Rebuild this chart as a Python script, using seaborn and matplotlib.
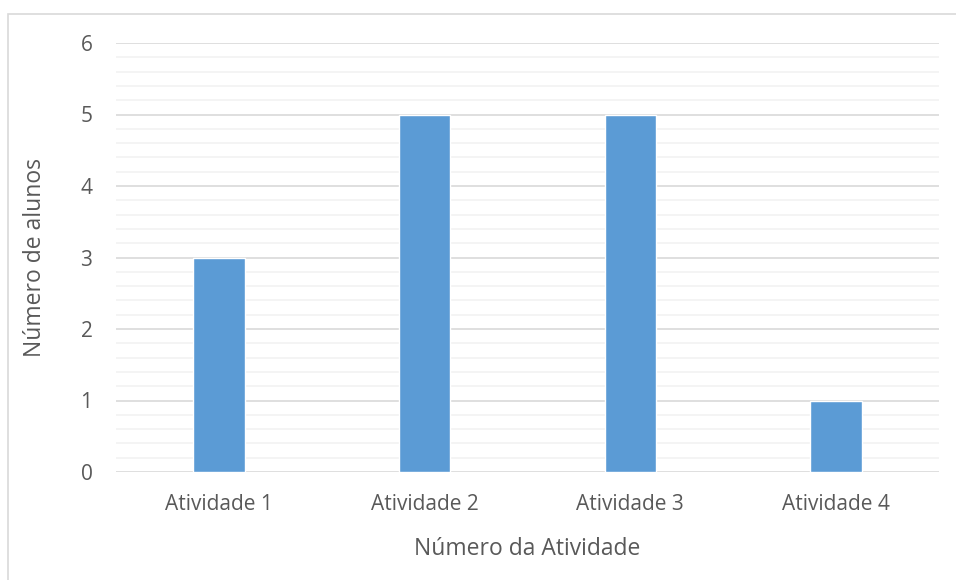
import matplotlib
matplotlib.use("Agg")
import matplotlib.pyplot as plt
from matplotlib.patches import Rectangle
from matplotlib.ticker import MultipleLocator
import seaborn as sns
import pandas as pd

categories = ["Atividade 1", "Atividade 2", "Atividade 3", "Atividade 4"]
alunos = [3, 5, 5, 1]

sns.set_theme(style="white")
plt.rcParams["font.family"] = ["Open Sans", "DejaVu Sans"]

df = pd.DataFrame({"atividade": categories, "alunos": alunos})

fig = plt.figure(figsize=(9.56, 5.80), dpi=100)
ax = fig.add_axes([116 / 956, 1 - 472 / 580, (939 - 116) / 956, (472 - 43) / 580])

sns.barplot(data=df, x="atividade", y="alunos", color="#5B9BD5",
            width=0.25, saturation=1, ax=ax, zorder=3)

ax.set_ylim(0, 6)
ax.set_xlim(-0.5, len(categories) - 0.5)
ax.yaxis.set_major_locator(MultipleLocator(1))
ax.yaxis.set_minor_locator(MultipleLocator(0.2))
ax.grid(axis="y", which="major", color="#D9D9D9", linewidth=1.2, zorder=0)
ax.grid(axis="y", which="minor", color="#F2F2F2", linewidth=1.2, zorder=0)
ax.set_axisbelow(True)
for s in ax.spines.values():
    s.set_visible(False)

ax.tick_params(axis="x", which="both", length=0, labelsize=15,
               labelcolor="#595959", pad=16)
ax.tick_params(axis="y", which="both", length=0, labelsize=15,
               labelcolor="#595959", pad=17)
ax.set_xlabel("Número da Atividade", fontsize=16.5, color="#595959", labelpad=16)
ax.set_ylabel("Número de alunos", fontsize=16.5, color="#595959", labelpad=24)

# chart frame
fig.patches.append(Rectangle((8 / 956, -0.05), 1.1, 1 - 14 / 580 + 0.05,
                             transform=fig.transFigure, fill=False,
                             edgecolor="#D9D9D9", linewidth=1.2))

fig.savefig("out.png", dpi=100, facecolor="white")
